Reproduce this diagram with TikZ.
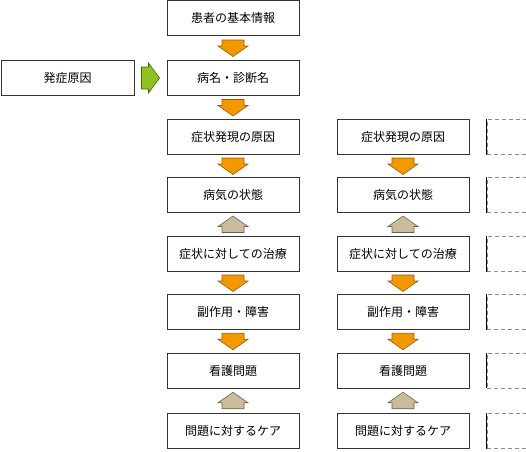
\documentclass[tikz,border=0pt]{standalone}
\usepackage{fontspec}
\newfontfamily\jpfont{Noto Sans CJK JP}
\usetikzlibrary{calc}
\definecolor{orfill}{HTML}{F39800}
\definecolor{ordraw}{HTML}{9A5E00}
\definecolor{tanfill}{HTML}{C9BB9B}
\definecolor{tandraw}{HTML}{6E624C}
\definecolor{grfill}{HTML}{8DC21F}
\definecolor{grdraw}{HTML}{3C6410}
\tikzset{
  box/.style={draw=black!80, line width=0.75pt, fill=white, minimum width=132pt, minimum height=35pt, inner sep=0pt, font=\jpfont\fontsize{12pt}{14pt}\selectfont},
  dbox/.style={draw=black!45, dash pattern=on 4pt off 3pt, line width=0.75pt, minimum width=132pt, minimum height=35pt, inner sep=0pt},
  pics/darr/.style={code={\draw[fill=orfill, draw=ordraw, line width=0.6pt, line join=miter] (-11,-8) -- (11,-8) -- (11,-2) -- (15,-2) -- (0,8.5) -- (-15,-2) -- (-11,-2) -- cycle;}},
  pics/uarr/.style={code={\draw[fill=tanfill, draw=tandraw, line width=0.6pt, line join=miter] (-11,8) -- (11,8) -- (11,2) -- (15,2) -- (0,-8.5) -- (-15,2) -- (-11,2) -- cycle;}},
  pics/rarr/.style={code={\draw[fill=grfill, draw=grdraw, line width=0.6pt, line join=miter] (-9,-11) -- (-2,-11) -- (-2,-15) -- (9,0) -- (-2,15) -- (-2,11) -- (-9,11) -- cycle;}}
}
\begin{document}
\begin{tikzpicture}[x=1pt,y=-1pt]
\useasboundingbox (0,0) rectangle (526,451);
\clip (0,0) rectangle (526,451);
% column 1
\node[box] (a1) at (233,18) {患者の基本情報};
\node[box] (a2) at (233,78) {病名・診断名};
\node[box] (a3) at (233,137) {症状発現の原因};
\node[box] (a4) at (233,195) {病気の状態};
\node[box] (a5) at (233,254) {症状に対しての治療};
\node[box] (a6) at (233,312) {副作用・障害};
\node[box] (a7) at (233,370.5) {看護問題};
\node[box] (a8) at (233,431) {問題に対するケア};
% left box
\node[box, minimum width=133pt] (cause) at (67.5,78) {発症原因};
% column 2
\node[box] (b3) at (403,137) {症状発現の原因};
\node[box] (b4) at (403,195) {病気の状態};
\node[box] (b5) at (403,254) {症状に対しての治療};
\node[box] (b6) at (403,312) {副作用・障害};
\node[box] (b7) at (403,370.5) {看護問題};
\node[box] (b8) at (403,431) {問題に対するケア};
% column 3 (dashed, cut off)
\foreach \n/\y in {3/137,4/195,5/254,6/312,7/370.5,8/431}{
  \node[dbox] (c\n) at (553,\y) {};
  \draw[black, line width=0.75pt] (c\n.north west) -- (c\n.south west);
}
% arrows
\pic at ($(a1.south)!0.5!(a2.north)$) {darr};
\pic at ($(a2.south)!0.5!(a3.north)$) {darr};
\pic at ($(a3.south)!0.5!(a4.north)$) {darr};
\pic at ($(a4.south)!0.5!(a5.north)$) {uarr};
\pic at ($(a5.south)!0.5!(a6.north)$) {darr};
\pic at ($(a6.south)!0.5!(a7.north)$) {darr};
\pic at ($(a7.south)!0.5!(a8.north)$) {uarr};
\pic at ($(b3.south)!0.5!(b4.north)$) {darr};
\pic at ($(b4.south)!0.5!(b5.north)$) {uarr};
\pic at ($(b5.south)!0.5!(b6.north)$) {darr};
\pic at ($(b6.south)!0.5!(b7.north)$) {darr};
\pic at ($(b7.south)!0.5!(b8.north)$) {uarr};
\pic at ($(cause.east)!0.5!(a2.west)$) {rarr};
\end{tikzpicture}
\end{document}
